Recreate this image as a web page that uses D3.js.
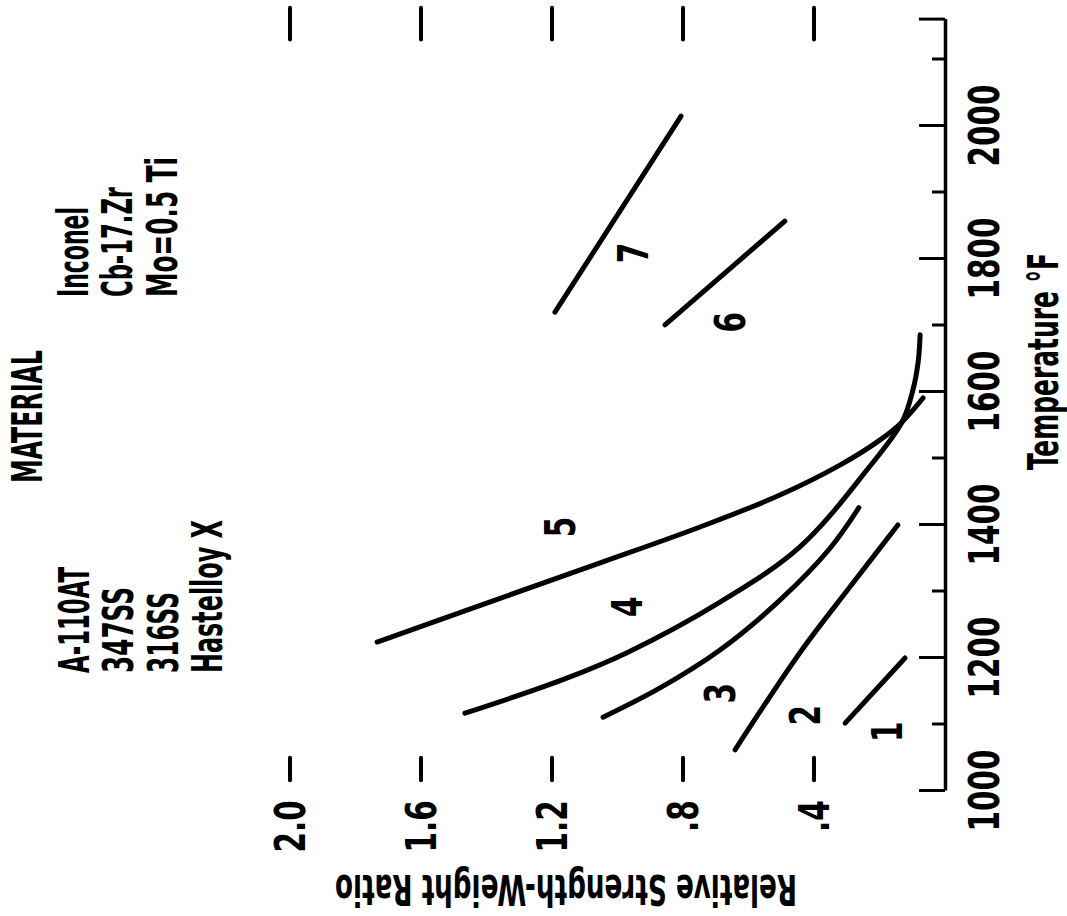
<!DOCTYPE html>
<html>
<head>
<meta charset="utf-8">
<script src="https://cdn.jsdelivr.net/npm/d3@7"></script>
<style>
  body { margin: 0; background: #fff; }
  text { font-family: 'Liberation Sans Narrow', 'DejaVu Sans Condensed', 'Arial Narrow', sans-serif; font-weight: bold; fill: #000; }
</style>
</head>
<body>
<div id="chart"></div>
<script>
// temperature (°F) vs relative strength-weight ratio
const curve1 = [[1102, 0.305], [1200, 0.122]];
const curve2 = [[1062, 0.641], [1208, 0.443], [1307, 0.290], [1400, 0.144]];
const curve3 = [[1111, 1.044], [1155, 0.870], [1212, 0.687], [1287, 0.504], [1365, 0.351], [1426, 0.263]];
const curve4 = [[1117, 1.466], [1167, 1.169], [1208, 0.971], [1284, 0.687], [1367, 0.443], [1483, 0.238],
                [1555, 0.131], [1603, 0.098], [1645, 0.082], [1686, 0.076]];
const curve5 = [[1224, 1.734], [1286, 1.380], [1343, 1.053], [1397, 0.748], [1445, 0.504],
                [1490, 0.321], [1528, 0.198], [1555, 0.131], [1591, 0.067]];
const curve6 = [[1701, 0.855], [1857, 0.489]];
const curve7 = [[1720, 1.191], [2015, 0.806]];
const curves = [curve1, curve2, curve3, curve4, curve5, curve6, curve7];

const curveNames = ["1", "2", "3", "4", "5", "6", "7"];
const labelTemps = [1089, 1114, 1147, 1277, 1397, 1705, 1809];
const labelRatios = [0.177, 0.427, 0.687, 0.971, 1.176, 0.656, 0.953];

const materialsLeft = ["A-110AT", "347SS", "316SS", "Hastelloy X"];
const materialsRight = ["Inconel", "Cb-17.Zr", "Mo=0.5 Ti"];

const tempMajor = [1000, 1200, 1400, 1600, 1800, 2000];
const tempMinor = [1100, 1300, 1500, 1700, 1900, 2100];
const tempEnd = 2160;
const ratioTicks = [0.4, 0.8, 1.2, 1.6, 2.0];
const ratioLabels = [".4", ".8", "1.2", "1.6", "2.0"];

const W = 1067, H = 916;
const squeeze = "scale(0.78,1)";
// printed lengths of the condensed lettering
const textWidths = {
    "MATERIAL": 133, "A-110AT": 106, "347SS": 86, "316SS": 81, "Hastelloy X": 153,
    "Inconel": 90, "Cb-17.Zr": 110, "Mo=0.5 Ti": 140,
    "Temperature °F": 217, "Relative Strength-Weight Ratio": 462
};

const svg = d3.select("#chart").append("svg")
    .attr("width", W)
    .attr("height", H);

// the chart is drawn upright and then turned a quarter turn
const g = svg.append("g")
    .attr("transform", `translate(0, ${H}) rotate(-90)`);

const x = d3.scaleLinear().domain([1000, tempEnd]).range([125, 125 + (tempEnd - 1000) * 0.665]);
const y = d3.scaleLinear().domain([0, 2]).range([945, 290]);

function fitText(sel) {
    sel.attr("textLength", d => textWidths[d])
       .attr("lengthAdjust", "spacingAndGlyphs");
}

// temperature axis
const xAxisMajor = d3.axisBottom(x)
    .tickValues(tempMajor.concat([tempEnd]))
    .tickFormat(d => d === tempEnd ? "" : d)
    .tickSizeInner(-26)
    .tickSizeOuter(0)
    .tickPadding(24);

const xAxisMinor = d3.axisBottom(x)
    .tickValues(tempMinor)
    .tickFormat("")
    .tickSizeInner(-13)
    .tickSizeOuter(0);

const axG = g.append("g")
    .attr("class", "x-axis")
    .attr("transform", `translate(0, ${y(0)})`)
    .call(xAxisMajor);
axG.select(".domain").attr("stroke-width", 3.5);
axG.selectAll(".tick line").attr("stroke-width", 3);
axG.selectAll(".tick text")
    .attr("font-size", 42)
    .attr("transform", squeeze);

const axMinor = g.append("g")
    .attr("transform", `translate(0, ${y(0)})`)
    .call(xAxisMinor);
axMinor.select(".domain").remove();
axMinor.selectAll(".tick line").attr("stroke-width", 3);

g.append("text")
    .datum("Temperature °F")
    .attr("transform", "translate(446, 1058)")
    .attr("font-size", 42)
    .text(d => d)
    .call(fitText);

// ratio ticks: free dashes near both ends of the temperature range
g.selectAll("line.rtick-low")
    .data(ratioTicks)
    .join("line")
    .attr("class", "rtick-low")
    .attr("x1", x(1016)).attr("x2", x(1050))
    .attr("y1", d => y(d)).attr("y2", d => y(d))
    .attr("stroke", "#000").attr("stroke-width", 4).attr("stroke-linecap", "round");

g.selectAll("line.rtick-high")
    .data(ratioTicks)
    .join("line")
    .attr("class", "rtick-high")
    .attr("x1", x(2130)).attr("x2", x(2178))
    .attr("y1", d => y(d)).attr("y2", d => y(d))
    .attr("stroke", "#000").attr("stroke-width", 4).attr("stroke-linecap", "round");

g.selectAll("text.rlabel")
    .data(ratioTicks)
    .join("text")
    .attr("class", "rlabel")
    .attr("transform", d => `translate(${x(986)}, ${y(d)}) ${squeeze}`)
    .attr("text-anchor", "end")
    .attr("dy", "0.36em")
    .attr("font-size", 42)
    .text((d, i) => ratioLabels[i]);

g.append("text")
    .datum("Relative Strength-Weight Ratio")
    .attr("transform", `translate(41, 566) rotate(-90)`)
    .attr("text-anchor", "middle")
    .attr("font-size", 42)
    .text(d => d)
    .call(fitText);

// curves
const line = d3.line()
    .x(d => x(d[0]))
    .y(d => y(d[1]))
    .curve(d3.curveCatmullRom.alpha(0.5));

g.selectAll("path.curve")
    .data(curves)
    .join("path")
    .attr("class", "curve")
    .attr("d", line)
    .attr("fill", "none")
    .attr("stroke", "#000")
    .attr("stroke-width", 5)
    .attr("stroke-linecap", "round");

g.selectAll("text.clabel")
    .data(curveNames)
    .join("text")
    .attr("class", "clabel")
    .attr("transform", (d, i) => `translate(${x(labelTemps[i])}, ${y(labelRatios[i])}) ${squeeze}`)
    .attr("text-anchor", "middle")
    .attr("dy", "0.36em")
    .attr("font-size", 42)
    .text(d => d);

// material legend
g.append("text")
    .datum("MATERIAL")
    .attr("transform", "translate(433, 42)")
    .attr("font-size", 42)
    .attr("font-weight", 900)
    .text(d => d)
    .call(fitText);

g.selectAll("text.matL")
    .data(materialsLeft)
    .join("text")
    .attr("class", "matL")
    .attr("transform", (d, i) => `translate(243, ${89 + i * 44.3})`)
    .attr("font-size", 42)
    .text(d => d)
    .call(fitText);

g.selectAll("text.matR")
    .data(materialsRight)
    .join("text")
    .attr("class", "matR")
    .attr("transform", (d, i) => `translate(619, ${88 + i * 44.3})`)
    .attr("font-size", 42)
    .text(d => d)
    .call(fitText);
</script>
</body>
</html>
